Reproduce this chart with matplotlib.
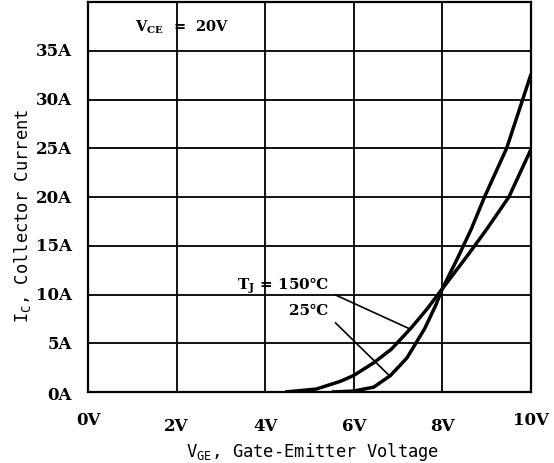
import matplotlib.pyplot as plt

plt.rcParams['font.family'] = ['DejaVu Serif', 'Noto Sans CJK SC']

# curve data
vge_25 = [5.5, 6.0, 6.45, 6.83, 7.2, 7.6, 7.85, 8.0, 8.35, 8.65, 8.95, 9.45, 10.0]
ic_25 = [0.0, 0.1, 0.5, 1.7, 3.5, 6.5, 8.9, 10.6, 13.8, 16.7, 20.0, 25.0, 32.6]

vge_150 = [4.45, 5.15, 5.7, 6.0, 6.45, 6.85, 7.3, 7.65, 8.0, 8.6, 9.0, 9.5, 10.0]
ic_150 = [0.0, 0.3, 1.1, 1.7, 3.0, 4.4, 6.6, 8.5, 10.6, 14.2, 16.7, 20.0, 24.9]

x_ticks = [0, 2, 4, 6, 8, 10]
x_labels = ["0V", "2V", "4V", "6V", "8V", "10V"]
y_ticks = [0, 5, 10, 15, 20, 25, 30, 35]
y_labels = ["0A", "5A", "10A", "15A", "20A", "25A", "30A", "35A"]

fig = plt.figure(figsize=(5.54, 4.64), dpi=100)
ax = fig.add_axes([0.1588, 0.153, 0.7997, 0.8405])

ax.set_xlim(0, 10)
ax.set_ylim(0, 40)

# grid
for xv in [2, 4, 6, 8]:
    ax.axvline(xv, color='black', lw=1.3, zorder=1)
for yv in [5, 10, 15, 20, 25, 30, 35]:
    ax.axhline(yv, color='black', lw=1.3, zorder=1)

ax.plot(vge_25, ic_25, color='black', lw=2.5, zorder=3, solid_capstyle='butt',
        solid_joinstyle='round')
ax.plot(vge_150, ic_150, color='black', lw=2.5, zorder=3, solid_capstyle='butt',
        solid_joinstyle='round')

for s in ax.spines.values():
    s.set_linewidth(1.6)

ax.set_xticks([])
ax.set_yticks([])

# tick labels (0V and 10V sit a bit higher than the others)
for xv, lab in zip(x_ticks, x_labels):
    yy = -2.85 if xv in (0, 10) else -3.45
    ax.text(xv, yy, lab, ha='center', va='center', fontsize=12, fontweight='bold')
for yv, lab in zip(y_ticks, y_labels):
    ax.text(-0.36, yv - (0.3 if yv == 0 else 0), lab, ha='right', va='center',
            fontsize=12, fontweight='bold')

mono = ['DejaVu Sans Mono', 'Noto Sans CJK SC']
fig.text(0.565, 0.025, "V$_{\\mathregular{GE}}$, Gate-Emitter Voltage", ha='center',
         va='center', fontsize=12.3, family=mono)
fig.text(0.041, 0.534, "I$_{\\mathregular{C}}$, Collector Current", ha='center',
         va='center', rotation=90, fontsize=12.3, family=mono)

ax.text(1.06, 37.5, "V$_{\\mathregular{CE}}$  =  20V", ha='left', va='center', fontsize=10.5,
        fontweight='bold')

ax.text(5.43, 11.0, "T$_{\\mathregular{J}}$ = 150\u2103", ha='right', va='center',
        fontsize=11, fontweight='bold')
ax.text(5.43, 8.36, "25\u2103", ha='right', va='center', fontsize=11, fontweight='bold')

# leader lines from the labels to the curves
ax.plot([5.59, 7.25], [9.95, 6.5], color='black', lw=1.2, zorder=2)
ax.plot([5.59, 6.82], [7.08, 1.6], color='black', lw=1.2, zorder=2)

plt.savefig("out.png", dpi=100)
